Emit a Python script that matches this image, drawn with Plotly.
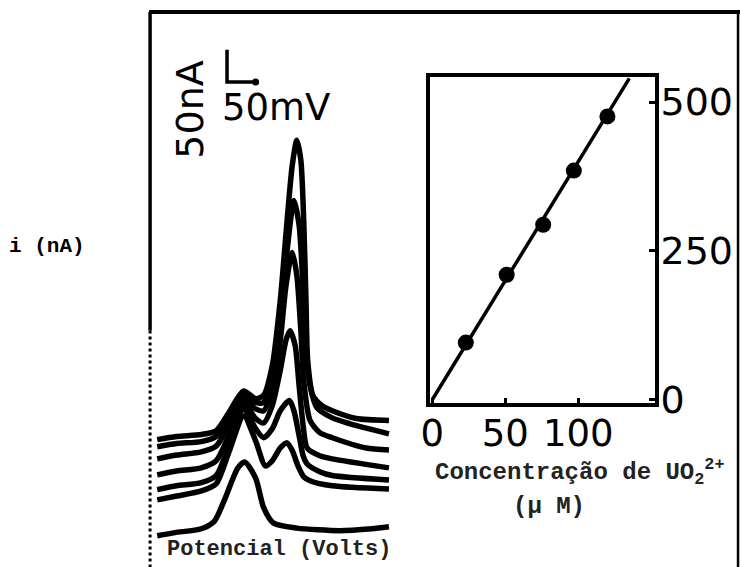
import plotly.graph_objects as go

# ---- Voltammograms (potential in mV from left frame, current in nA, curves offset) ----
E0 = [9, 40, 86, 109, 126, 150, 162, 181, 195, 212, 253, 328, 384, 414]
I0 = [8, 13, 19, 31, 63, 114, 123, 98, 52, 28, 20, 16, 19, 22]

E1 = [9, 43, 86, 112, 134, 160, 181, 198, 210, 224, 236, 245, 255, 265, 276, 315, 414]
I1 = [64, 70, 78, 89, 138, 195, 156, 117, 125, 145, 153, 141, 117, 100, 94, 86, 81]

E2 = [9, 43, 86, 112, 134, 160, 181, 195, 210, 224, 240, 248, 257, 264, 271, 293, 315, 414]
I2 = [80, 86, 91, 102, 148, 206, 175, 161, 175, 203, 219, 203, 164, 133, 120, 108, 102, 95]

E3 = [9, 43, 86, 112, 134, 160, 181, 195, 210, 224, 234, 241, 250, 257, 264, 271, 293, 315, 414]
I3 = [103, 109, 114, 125, 164, 214, 191, 184, 211, 266, 313, 328, 305, 242, 180, 145, 133, 128, 114]

E4 = [9, 43, 86, 112, 134, 160, 181, 195, 210, 224, 234, 245, 253, 260, 265, 276, 293, 315, 374, 414]
I4 = [128, 134, 139, 148, 180, 222, 206, 203, 238, 313, 398, 450, 414, 328, 250, 188, 169, 161, 145, 142]

E5 = [9, 43, 86, 112, 134, 160, 181, 195, 210, 224, 236, 248, 257, 264, 269, 276, 288, 315, 345, 414]
I5 = [147, 152, 155, 163, 191, 230, 216, 216, 258, 344, 453, 531, 492, 391, 297, 242, 208, 192, 183, 167]

E6 = [9, 43, 86, 112, 134, 160, 181, 195, 210, 224, 236, 245, 253, 260, 265, 269, 272, 281, 297, 315, 357, 414]
I6 = [158, 163, 166, 172, 200, 234, 222, 227, 273, 375, 500, 586, 625, 594, 500, 375, 281, 227, 211, 203, 191, 188]

curves_E = [E0, E1, E2, E3, E4, E5, E6]
curves_I = [I0, I1, I2, I3, I4, I5, I6]

# scale bar
scale_mV = 50
scale_nA = 50

# ---- Inset: calibration ----
conc = [23, 51, 76, 97, 120]
current = [96, 210, 294, 385, 476]
fit_x = [0, 135]
fit_y = [0, 540]
x_ticks = [0, 50, 100]
y_ticks = [0, 250, 500]

# design grid (reference picture) and actual figure size
W, H = 740, 567
FIG_H = 587
fig = go.Figure()

for Ex, Iy in zip(curves_E, curves_I):
    fig.add_trace(go.Scatter(x=Ex, y=Iy, mode="lines",
                             line=dict(color="black", width=5.5, shape="spline", smoothing=0.7),
                             xaxis="x", yaxis="y", showlegend=False, hoverinfo="skip"))

# scale bar "L"
sbx, sby = 131, 716
fig.add_trace(go.Scatter(x=[sbx, sbx, sbx + scale_mV], y=[sby + scale_nA, sby, sby],
                         mode="lines", line=dict(color="black", width=3.5),
                         xaxis="x", yaxis="y", showlegend=False, hoverinfo="skip"))
fig.add_trace(go.Scatter(x=[sbx + scale_mV], y=[sby], mode="markers",
                         marker=dict(color="black", size=7),
                         xaxis="x", yaxis="y", showlegend=False, hoverinfo="skip"))

# inset
fig.add_trace(go.Scatter(x=fit_x, y=fit_y, mode="lines", line=dict(color="black", width=3.5),
                         xaxis="x2", yaxis="y2", showlegend=False, hoverinfo="skip"))
fig.add_trace(go.Scatter(x=conc, y=current, mode="markers",
                         marker=dict(color="black", size=16, symbol="circle"),
                         xaxis="x2", yaxis="y2", showlegend=False, hoverinfo="skip"))

def px(v):
    return v / W

def py(v):
    return 1 - v / H

fig.update_layout(
    width=W, height=FIG_H, autosize=False, margin=dict(l=0, r=0, t=0, b=0),
    paper_bgcolor="white", plot_bgcolor="rgba(0,0,0,0)",
    xaxis=dict(domain=[0, 1], range=[-248.3, 1027.5], visible=False, fixedrange=True),
    yaxis=dict(domain=[0, 1], range=[-42.2, 843.75], visible=False, fixedrange=True),
    xaxis2=dict(domain=[px(426), px(654)], range=[-1.35, 152.7], anchor="y2",
                showline=True, linecolor="black", linewidth=3.5, mirror=True,
                showgrid=False, zeroline=False,
                tickmode="array", tickvals=x_ticks, ticktext=[str(t) for t in x_ticks],
                ticks="inside", ticklen=5, tickwidth=3, tickcolor="black",
                tickfont=dict(family="DejaVu Sans", size=37, color="black"),
                ticklabelstandoff=-5),
    yaxis2=dict(domain=[py(402), py(77)], range=[-5, 542], anchor="x2", side="right",
                showline=True, linecolor="black", linewidth=3.5, mirror=True,
                showgrid=False, zeroline=False,
                tickmode="array", tickvals=y_ticks, ticktext=[str(t) for t in y_ticks],
                ticks="inside", ticklen=6, tickwidth=3, tickcolor="black",
                tickfont=dict(family="DejaVu Sans", size=38, color="black"),
                ticklabelstandoff=-6),
)

# inset white background
fig.add_shape(type="rect", xref="paper", yref="paper",
              x0=px(426), x1=px(654), y0=py(402), y1=py(77),
              fillcolor="white", line=dict(width=0), layer="below")

# outer frame
fig.add_shape(type="line", xref="paper", yref="paper", x0=px(141), x1=1, y0=py(12), y1=py(12),
              line=dict(color="black", width=4))
fig.add_shape(type="line", xref="paper", yref="paper", x0=px(142), x1=px(142), y0=py(12), y1=py(330),
              line=dict(color="black", width=3.5))
fig.add_shape(type="line", xref="paper", yref="paper", x0=px(142), x1=px(142), y0=py(330), y1=0,
              line=dict(color="black", width=3, dash="dot"))
fig.add_shape(type="line", xref="paper", yref="paper", x0=px(738), x1=px(738), y0=py(12), y1=0,
              line=dict(color="black", width=2.5))

ann = [
    dict(text="50nA", x=px(183), y=py(110), textangle=-90,
         font=dict(family="DejaVu Sans", size=38, color="black")),
    dict(text="50mV", x=px(270), y=py(107),
         font=dict(family="DejaVu Sans", size=37, color="black")),
    dict(text="<b>i (nA)</b>", x=px(-3), y=py(246), xanchor="left",
         font=dict(family="Liberation Mono", size=21, color="black")),
    dict(text="<b>Potencial (Volts)</b>", x=px(273), y=py(549),
         font=dict(family="Liberation Mono", size=22, color="#222")),
    dict(text="<b>Concentração de UO<sub>2</sub><sup>2+</sup></b>", x=px(429), y=py(471), xanchor="left",
         font=dict(family="Liberation Mono", size=24, color="#222")),
    dict(text="<b>(μ M)</b>", x=px(546), y=py(506),
         font=dict(family="Liberation Mono", size=24, color="#222")),
]
for a in ann:
    a.setdefault("xanchor", "center")
    a.setdefault("yanchor", "middle")
    fig.add_annotation(xref="paper", yref="paper", showarrow=False, **a)

# remove the default page margin so the figure starts at the window's corner
fig.write_html("out.html",
               config={"displayModeBar": False, "responsive": False},
               post_script="document.body.style.margin='0';document.body.style.overflow='hidden';")
